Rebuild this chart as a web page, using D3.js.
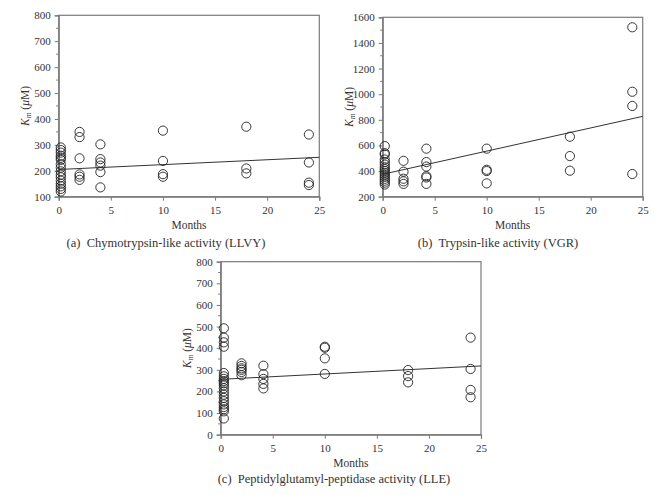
<!DOCTYPE html>
<html><head><meta charset="utf-8">
<script src="https://cdn.jsdelivr.net/npm/d3@7"></script>
<style>body{margin:0;background:#fff}svg{display:block}</style>
</head><body>
<script>
// ---- data ----
const monthsA = [0.2, 2, 4, 10, 18, 24];
const kmA = [
  [290, 280, 270, 258, 250, 242, 225, 212, 198, 185, 175, 162, 150, 140, 130, 120],
  [350, 330, 248, 186, 177, 165],
  [302, 245, 232, 220, 195, 136],
  [355, 238, 187, 177],
  [370, 209, 190],
  [340, 232, 154, 145]
];
const trendA = [205, 252];

const monthsB = [0.2, 2, 4.2, 10, 18, 24];
const kmB = [
  [595, 540, 530, 490, 470, 450, 430, 415, 400, 385, 370, 355, 340, 325, 310, 295],
  [480, 395, 340, 320, 300],
  [575, 470, 435, 360, 350, 300],
  [575, 410, 400, 304],
  [668, 517, 403],
  [1522, 1019, 908, 377]
];
const trendB = [375, 827];

const monthsC = [0.3, 2, 4.1, 10, 18, 24];
const kmC = [
  [492, 449, 427, 407, 285, 270, 258, 248, 238, 228, 215, 200, 185, 170, 155, 140, 128, 118, 108, 75],
  [330, 318, 307, 300, 290, 275],
  [319, 280, 258, 235, 214],
  [407, 402, 353, 281],
  [299, 271, 242],
  [449, 304, 207, 173]
];
const trendC = [256, 318];

const trendMonths = [0, 25];
const xTicks = [0, 5, 10, 15, 20, 25];
const yTicksA = [100, 200, 300, 400, 500, 600, 700, 800];
const yTicksB = [200, 400, 600, 800, 1000, 1200, 1400, 1600];
const yTicksC = [0, 100, 200, 300, 400, 500, 600, 700, 800];
const captions = ["(a)  Chymotrypsin-like activity (LLVY)", "(b)  Trypsin-like activity (VGR)", "(c)  Peptidylglutamyl-peptidase activity (LLE)"];

// ---- drawing ----
const W = 663, H = 495;
const svg = d3.select("body").append("svg").attr("width", W).attr("height", H);
const FONT = "'Liberation Serif', 'DejaVu Serif', serif";
const TXT = "#333";
const AX = "#7a7a7a";

function panel(cfg) {
  const {left, right, top, bottom, yDomain, yTicks, yMinorStep, months, km, trend, caption, capX, capY} = cfg;
  const x = d3.scaleLinear().domain([0, 25]).range([left, right]);
  const y = d3.scaleLinear().domain(yDomain).range([bottom, top]);
  const g = svg.append("g");

  // frame
  g.append("rect").attr("x", left).attr("y", top).attr("width", right - left).attr("height", bottom - top)
    .attr("fill", "none").attr("stroke", AX).attr("stroke-width", 1.2);

  // y axis
  const ya = d3.axisLeft(y).tickValues(yTicks).tickSize(4).tickPadding(4).tickFormat(d3.format("d"));
  const yg = g.append("g").attr("transform", `translate(${left},0)`).call(ya);
  // minor y ticks
  const minors = d3.range(yDomain[0] + yMinorStep, yDomain[1], yMinorStep).filter(v => !yTicks.includes(v));
  g.append("g").selectAll("line").data(minors).join("line")
    .attr("x1", left - 2.5).attr("x2", left).attr("y1", d => y(d)).attr("y2", d => y(d))
    .attr("stroke", AX).attr("stroke-width", 1);

  // x axis
  const xa = d3.axisBottom(x).tickValues(xTicks).tickSize(4).tickPadding(6).tickFormat(d3.format("d"));
  const xg = g.append("g").attr("transform", `translate(0,${bottom})`).call(xa);

  [yg, xg].forEach(a => {
    a.select(".domain").attr("stroke", AX).attr("stroke-width", 1.2);
    a.selectAll(".tick line").attr("stroke", AX);
    a.selectAll(".tick text").attr("fill", TXT).style("font-family", FONT).style("font-size", "11px");
  });

  // trend line
  g.append("line")
    .attr("x1", x(trendMonths[0])).attr("y1", y(trend[0]))
    .attr("x2", x(trendMonths[1])).attr("y2", y(trend[1]))
    .attr("stroke", "#333").attr("stroke-width", 1);

  // points
  const pts = [];
  months.forEach((m, i) => km[i].forEach(v => pts.push([m, v])));
  g.append("g").selectAll("circle").data(pts).join("circle")
    .attr("cx", d => x(d[0])).attr("cy", d => y(d[1])).attr("r", 4.6)
    .attr("fill", "none").attr("stroke", "#222").attr("stroke-width", 0.9);

  // x label
  g.append("text").attr("x", (left + right) / 2).attr("y", bottom + 32.5).attr("text-anchor", "middle")
    .attr("fill", TXT).style("font-family", FONT).style("font-size", "11.5px").text("Months");

  // y label
  const cy = (top + bottom) / 2;
  const yl = g.append("text").attr("transform", `translate(${left - 30},${cy}) rotate(-90)`)
    .attr("text-anchor", "middle").attr("fill", TXT).style("font-family", FONT).style("font-size", "11.5px");
  yl.append("tspan").style("font-style", "italic").text("K");
  yl.append("tspan").style("font-style", "italic").style("font-size", "8px").attr("dy", 2).text("m");
  yl.append("tspan").attr("dy", -2).text(" (");
  yl.append("tspan").style("font-style", "italic").text("μ");
  yl.append("tspan").text("M)");

  // caption
  g.append("text").attr("x", capX).attr("y", capY).attr("text-anchor", "middle")
    .attr("fill", TXT).style("font-family", FONT).style("font-size", "12.5px")
    .attr("xml:space", "preserve").style("white-space", "pre").text(caption);
}

panel({left: 58.7, right: 319.3, top: 15.3, bottom: 196.7, yDomain: [100, 800], yTicks: yTicksA, yMinorStep: 50,
  months: monthsA, km: kmA, trend: trendA, caption: captions[0], capX: 166, capY: 247});
panel({left: 382.7, right: 642.7, top: 17.3, bottom: 196.7, yDomain: [200, 1600], yTicks: yTicksB, yMinorStep: 100,
  months: monthsB, km: kmB, trend: trendB, caption: captions[1], capX: 498, capY: 247});
panel({left: 220.7, right: 481, top: 261.7, bottom: 434.7, yDomain: [0, 800], yTicks: yTicksC, yMinorStep: 50,
  months: monthsC, km: kmC, trend: trendC, caption: captions[2], capX: 334, capY: 483});
</script>
</body></html>
